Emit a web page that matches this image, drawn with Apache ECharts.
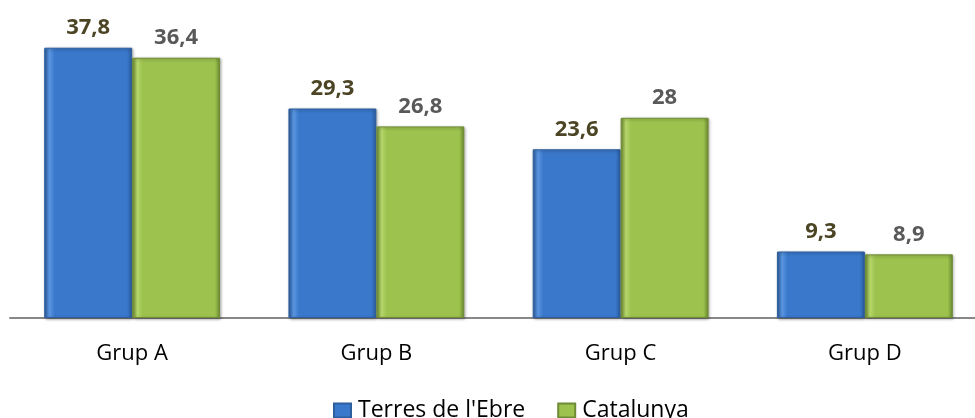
<!DOCTYPE html>
<html>
<head>
<meta charset="utf-8">
<script src="https://cdn.jsdelivr.net/npm/echarts@6/dist/echarts.min.js"></script>
<style>
  html, body { margin: 0; padding: 0; background: #fff; }
  #chart { width: 975px; height: 418px; }
</style>
</head>
<body>
<div id="chart"></div>
<script>
const categories = ['Grup A', 'Grup B', 'Grup C', 'Grup D'];
const terresEbre = [37.8, 29.3, 23.6, 9.3];
const catalunya = [36.4, 26.8, 28, 8.9];
const seriesNames = ["Terres de l'Ebre", 'Catalunya'];

// bevel-ish look: lighter at the edges, flat in the middle
function bevel(edge, mid, dark) {
    return new echarts.graphic.LinearGradient(0, 0, 1, 0, [
        { offset: 0, color: dark },
        { offset: 0.06, color: edge },
        { offset: 0.12, color: mid },
        { offset: 0.94, color: mid },
        { offset: 1, color: dark },
    ]);
}

const fmt = (p) => String(p.value).replace('.', ',');

const chart = echarts.init(document.getElementById('chart'));
chart.setOption({
    animation: false,
    textStyle: { fontFamily: '"Open Sans", sans-serif' },
    grid: { left: 10, width: 977, top: 32, bottom: 100, outerBoundsMode: 'none' },
    legend: {
        bottom: -9,
        left: 328,
        itemWidth: 17,
        itemHeight: 14,
        itemGap: 32,
        icon: 'rect',
        textStyle: { fontSize: 23, color: '#000', padding: [0, 0, 0, 2] },
        data: seriesNames,
    },
    xAxis: {
        type: 'category',
        data: categories,
        axisLine: { lineStyle: { color: '#888888', width: 2 } },
        axisTick: { show: false },
        axisLabel: { fontSize: 22, color: '#000', margin: 25 },
    },
    yAxis: {
        type: 'value',
        min: 0,
        max: 40,
        show: false,
        splitLine: { show: false },
    },
    series: [
        {
            name: seriesNames[0],
            type: 'bar',
            data: terresEbre,
            barWidth: '36%',
            barGap: '0%',
            itemStyle: {
                color: bevel('#5A95E0', '#3A78CC', '#2A5C9E'),
                borderColor: '#2D5F9F',
                borderWidth: 1,
                shadowColor: 'rgba(0,0,0,0.35)',
                shadowBlur: 3,
                shadowOffsetX: 1,
                shadowOffsetY: 1,
            },
            label: {
                show: true,
                position: 'top',
                distance: 9,
                formatter: fmt,
                fontSize: 22,
                fontWeight: 'bold',
                color: '#4B4525',
            },
        },
        {
            name: seriesNames[1],
            type: 'bar',
            data: catalunya,
            barWidth: '36%',
            itemStyle: {
                color: bevel('#B5D66A', '#9DC24E', '#6E8C32'),
                borderColor: '#6F8C34',
                borderWidth: 1,
                shadowColor: 'rgba(0,0,0,0.35)',
                shadowBlur: 3,
                shadowOffsetX: 1,
                shadowOffsetY: 1,
            },
            label: {
                show: true,
                position: 'top',
                distance: 9,
                formatter: fmt,
                fontSize: 22,
                fontWeight: 'bold',
                color: '#595959',
            },
        },
    ],
});
</script>
</body>
</html>
